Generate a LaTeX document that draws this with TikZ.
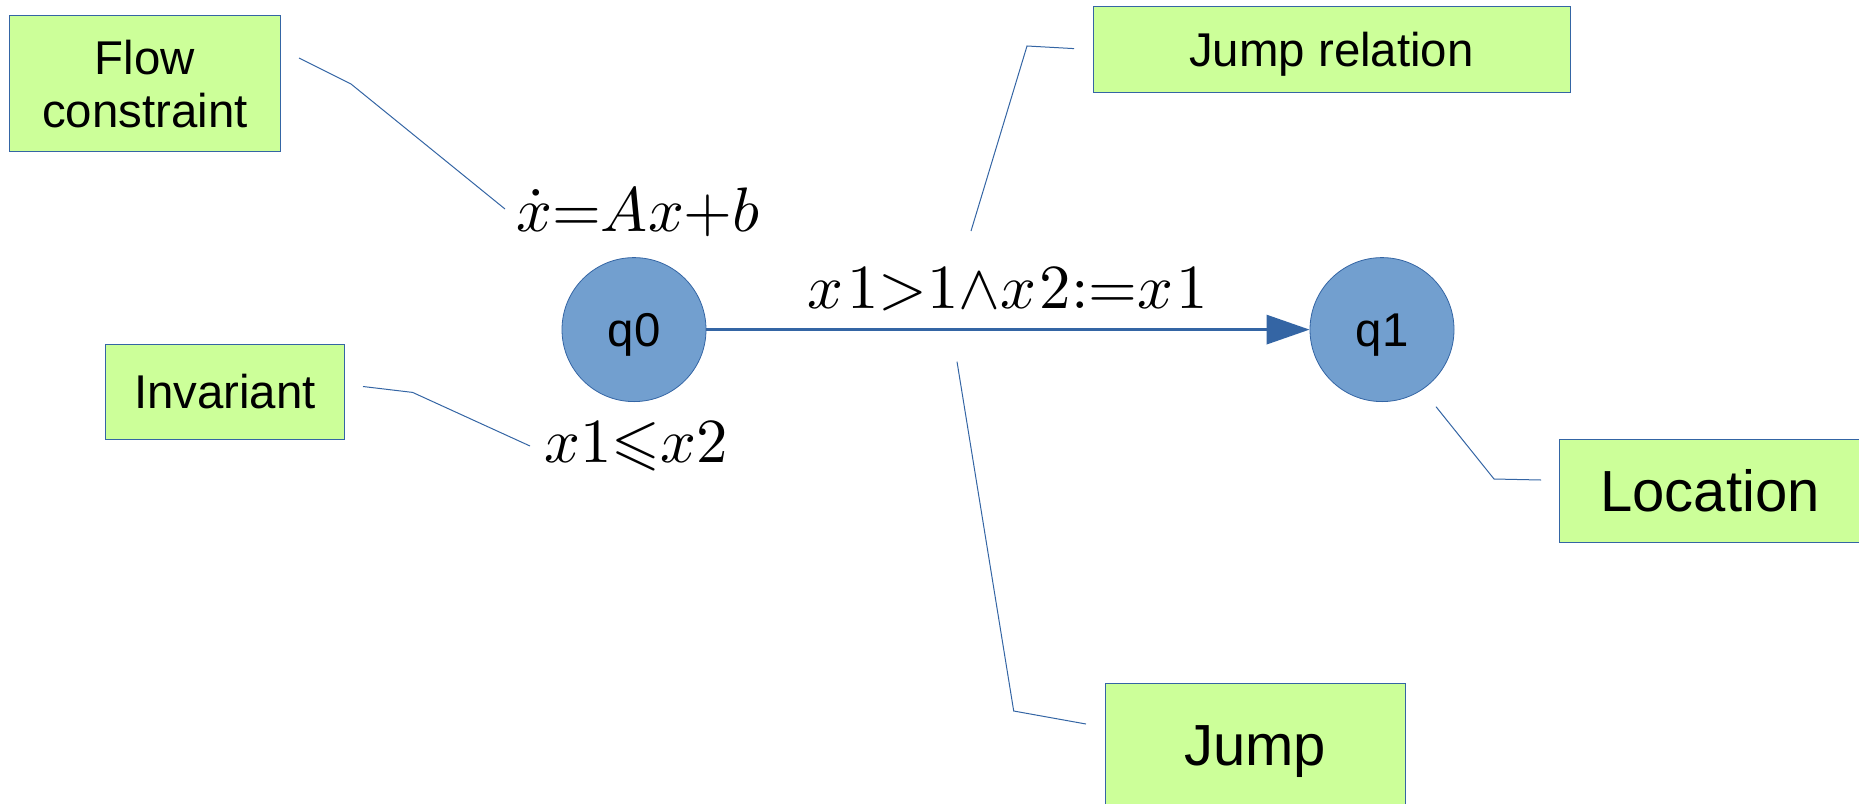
\documentclass[tikz,border=0pt]{standalone}
\usepackage[no-math]{fontspec}
\usepackage{amssymb}
\usepackage{graphicx}
\setmainfont{Liberation Sans}
\usetikzlibrary{arrows.meta}
\definecolor{boxfill}{HTML}{CCFF99}
\definecolor{lineblue}{HTML}{3465A4}
\definecolor{circfill}{HTML}{729FCF}
\tikzset{
  x=1pt, y=-1pt,
  notebox/.style={draw=lineblue, line width=1pt, fill=boxfill, inner sep=0pt, align=center,
    font=\fontsize{47.4}{53}\selectfont},
  oneline/.style={text height=34pt, text depth=0pt},
  bigline/.style={text height=41.8pt, text depth=0pt},
  bignote/.style={notebox, bigline, font=\fontsize{58}{64}\selectfont},
  loc/.style={circle, draw=lineblue, line width=0.8pt, fill=circfill, minimum size=144pt, inner sep=0pt,
    oneline, font=\fontsize{47.4}{53}\selectfont},
  mathlbl/.style={inner sep=0pt},
  leader/.style={draw=lineblue, line width=1pt},
  jumparrow/.style={draw=lineblue, line width=3.2pt, -{Triangle[length=43pt,width=29pt]}}
}
\newcommand{\mscale}[1]{\scalebox{6.28}{$#1$}}
\begin{document}
\begin{tikzpicture}
\useasboundingbox (0,0) rectangle (1859,803);
% boxes
\node[notebox, minimum width=270.5pt, minimum height=136.4pt] (flow) at (145,83.6) {Flow\\constraint};
\node[notebox, oneline, minimum width=238.5pt, minimum height=95pt] (inv) at (225,391.5) {Invariant};
\node[notebox, oneline, minimum width=477pt, minimum height=86.5pt] (jrel) at (1331.5,49.3) {Jump relation};
\node[bignote, minimum width=302pt, minimum height=103pt] (locbox) at (1710,490.5) {Location};
\node[bignote, minimum width=300pt, minimum height=123pt] (jump) at (1255,744.6) {Jump};
% locations
\node[loc] (q0) at (634,329.6) {q0};
\node[loc] (q1) at (1382,329.6) {q1};
\draw[jumparrow] (q0) -- (q1);
% math labels
\node[mathlbl] (flowlbl) at (638,212) {\mscale{\dot{x}{=}Ax{+}b}};
\node[mathlbl] (invlbl) at (636,447) {\mscale{x1{\leqslant}x2}};
\node[mathlbl] (jrellbl) at (1008,289) {\mscale{x\mkern1mu1{>}1{\wedge}x\mkern1mu2{:=}x\mkern1mu1}};
% leader lines
\coordinate (f1) at (299,58);
\coordinate (f2) at (351,84);
\coordinate (f3) at (505,209);
\coordinate (i1) at (363,386.5);
\coordinate (i2) at (412.6,392.4);
\coordinate (i3) at (530,446);
\coordinate (r1) at (1074,48.6);
\coordinate (r2) at (1027,46);
\coordinate (r3) at (971,231);
\coordinate (j1) at (957,361.6);
\coordinate (j2) at (1013.7,711);
\coordinate (j3) at (1086,724);
\coordinate (l1) at (1436,406.7);
\coordinate (l2) at (1494,479);
\coordinate (l3) at (1541,480);
\draw[leader] (f1) -- (f2) -- (f3);
\draw[leader] (i1) -- (i2) -- (i3);
\draw[leader] (r1) -- (r2) -- (r3);
\draw[leader] (j1) -- (j2) -- (j3);
\draw[leader] (l1) -- (l2) -- (l3);
\end{tikzpicture}
\end{document}
